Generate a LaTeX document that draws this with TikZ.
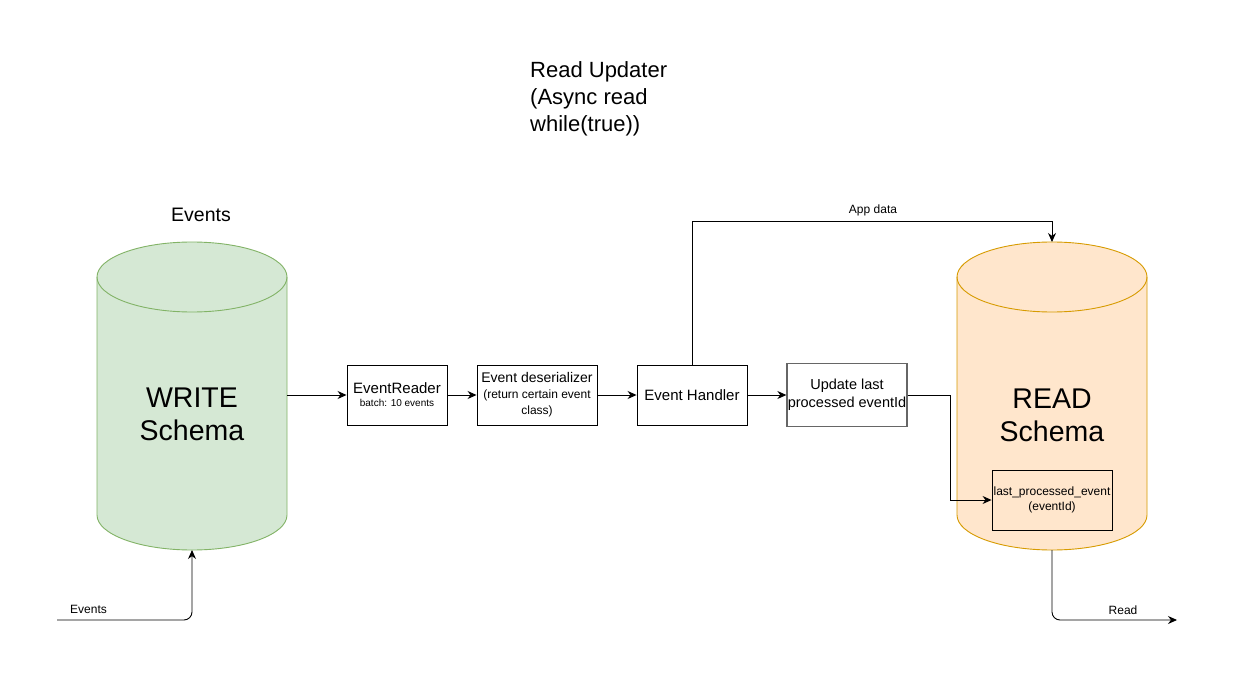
\documentclass[tikz,border=0pt]{standalone}
\usepackage{fontspec}
\setmainfont{Liberation Sans}
\usetikzlibrary{arrows.meta}
\definecolor{wfill}{HTML}{D5E8D4}
\definecolor{wdraw}{HTML}{82B366}
\definecolor{rfill}{HTML}{FFE6CC}
\definecolor{rdraw}{HTML}{D79B00}
\newcommand{\fs}[2]{\fontsize{#1}{#2}\selectfont}
\tikzset{
  stepbox/.style={draw=black, line width=0.9pt, fill=white, minimum height=60pt, inner sep=0pt, align=center},
  conn/.style={draw=black, line width=0.9pt, -{Stealth[length=9pt,width=8pt]}},
  lbl/.style={inner sep=0pt, font=\fs{12}{14}},
  cylw/.style={fill=wfill, draw=wdraw, line width=0.9pt},
  cylr/.style={fill=rfill, draw=rdraw, line width=0.9pt}
}
\begin{document}
\begin{tikzpicture}[x=1pt,y=-1pt]
\useasboundingbox (0,0) rectangle (1236,679);
\fill[white] (0,0) rectangle (1236,679);

% title
\node[inner sep=0pt, anchor=north west, align=left, font=\fs{22}{27}] (title) at (530,61)
  {Read Updater\\(Async read\\while(true))};

% WRITE cylinder
\path[cylw] (97,277) -- (97,515) arc[start angle=180,end angle=360,x radius=95pt,y radius=35pt]
  -- (287,277) arc[start angle=0,end angle=180,x radius=95pt,y radius=35pt] -- cycle;
\draw[draw=wdraw, line width=0.9pt] (97,277) arc[start angle=180,end angle=360,x radius=95pt,y radius=35pt];
\coordinate (wbot) at (192,550);
\coordinate (wright) at (287,395);
\node[inner sep=0pt, anchor=north, align=center, font=\fs{28.5}{33}] (wtext) at (192,388) {WRITE\\Schema};
\node[inner sep=0pt, anchor=base, font=\fs{19.5}{23}] (evhead) at (201,222) {Events};

% READ cylinder
\path[cylr] (957,277) -- (957,515) arc[start angle=180,end angle=360,x radius=95pt,y radius=35pt]
  -- (1147,277) arc[start angle=0,end angle=180,x radius=95pt,y radius=35pt] -- cycle;
\draw[draw=rdraw, line width=0.9pt] (957,277) arc[start angle=180,end angle=360,x radius=95pt,y radius=35pt];
\coordinate (rtop) at (1052,242);
\coordinate (rbot) at (1052,550);
\node[inner sep=0pt, anchor=north, align=center, font=\fs{28.5}{33}] (rtext) at (1052,389) {READ\\Schema};

% boxes
\node[stepbox, minimum width=100pt, font=\fs{10}{12}] (reader) at (397,395)
  {{\fs{15}{17}EventReader}\\[1pt]batch: 10 events};
\node[stepbox, minimum width=120pt, font=\fs{12}{16}] (deser) at (537,395)
  {{\fs{14}{16}Event deserializer}\\(return certain event\\class)};
\node[stepbox, minimum width=110pt, font=\fs{15}{17}] (handler) at (692,395)
  {Event Handler};
\node[stepbox, draw=black!60, line width=1.3pt, minimum width=120pt, minimum height=63pt, font=\fs{14.5}{18}] (update) at (847,395)
  {Update last\\processed eventId};
\node[stepbox, fill=none, minimum width=120pt, font=\fs{12}{15}] (lastev) at (1052,500)
  {last\_processed\_event\\(eventId)};

% connectors
\draw[conn] (wright) -- (reader.west);
\draw[conn] (reader.east) -- (deser.west);
\draw[conn] (deser.east) -- (handler.west);
\draw[conn] (handler.east) -- (update.west);
\draw[conn] (update.east) -- (950,395) -- (950,500) -- (lastev.west);
\draw[conn] (handler.north) -- (692,221) -- (1052,221) -- (rtop);
\node[lbl, anchor=base] (applbl) at (873,213) {App data};

\coordinate (evsrc) at (57,620);
\draw[conn, rounded corners=8pt] (evsrc) -- (192,620) -- (wbot);
\node[lbl, anchor=base west] (evlbl) at (70,613) {Events};

\coordinate (rdst) at (1177,620);
\draw[conn, rounded corners=8pt] (rbot) -- (1052,620) -- (rdst);
\node[lbl, anchor=base] (rdlbl) at (1123,614) {Read};
\end{tikzpicture}
\end{document}
